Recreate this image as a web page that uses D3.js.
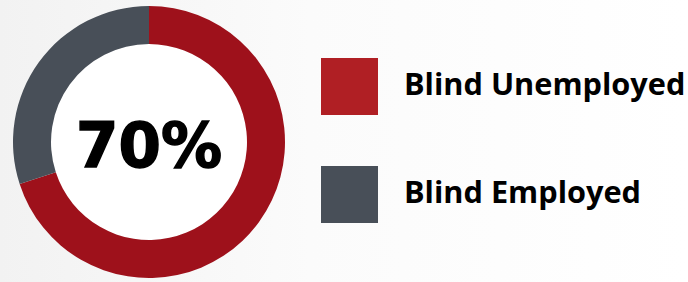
<!DOCTYPE html>
<html>
<head>
<meta charset="utf-8">
<script src="https://cdn.jsdelivr.net/npm/d3@7"></script>
<style>
  html, body { margin: 0; padding: 0; background: #fff; }
  svg { display: block; }
</style>
</head>
<body>
<svg id="chart"></svg>
<script>
const categories = ['Blind Unemployed', 'Blind Employed']
const values = [70, 30]
const centerLabel = '70%'
const colors = ['#9e111b', '#484f58']
const legendColors = ['#b01f24', '#484f58']

const width = 688, height = 282
const svg = d3.select('#chart').attr('width', width).attr('height', height)

// soft background shading, grey on the left fading to white
const defs = svg.append('defs')
const grad = defs.append('linearGradient').attr('id', 'bg')
    .attr('x1', '0').attr('x2', '1').attr('y1', '0').attr('y2', '0')
grad.append('stop').attr('offset', '0').attr('stop-color', '#f2f2f2')
grad.append('stop').attr('offset', '0.45').attr('stop-color', '#fbfbfb')
grad.append('stop').attr('offset', '1').attr('stop-color', '#ffffff')
svg.append('rect').attr('width', width).attr('height', height).attr('fill', 'url(#bg)')

const cx = 149, cy = 142
const outerR = 136, innerR = 98

const pie = d3.pie().sort(null).value(d => d)
const arc = d3.arc().innerRadius(innerR).outerRadius(outerR)

const g = svg.append('g').attr('transform', `translate(${cx}, ${cy})`)
g.append('circle').attr('r', innerR).attr('fill', '#fff')
g.selectAll('path.slice').data(pie(values))
    .enter().append('path')
    .classed('slice', true)
    .attr('d', arc)
    .attr('fill', (d, i) => colors[i])

g.append('text')
    .attr('text-anchor', 'middle')
    .attr('y', 25)
    .attr('font-family', '"DejaVu Sans", sans-serif')
    .attr('font-weight', 700)
    .attr('font-size', 62)
    .attr('fill', '#000')
    .attr('stroke', '#000')
    .attr('stroke-width', 1.5)
    .attr('textLength', 146)
    .attr('lengthAdjust', 'spacingAndGlyphs')
    .text(centerLabel)

// legend
const legendY = d3.scalePoint().domain(categories).range([58, 166])
const legend = svg.append('g')
const item = legend.selectAll('g.item').data(categories)
    .enter().append('g')
    .classed('item', true)
    .attr('transform', d => `translate(321, ${legendY(d)})`)
item.append('rect')
    .attr('width', 57).attr('height', 57)
    .attr('fill', (d, i) => legendColors[i])
item.append('text')
    .attr('x', 83)
    .attr('y', 37)
    .attr('font-family', '"Open Sans", sans-serif')
    .attr('font-weight', 700)
    .attr('font-size', 30.7)
    .attr('fill', '#000')
    .text(d => d)
</script>
</body>
</html>
